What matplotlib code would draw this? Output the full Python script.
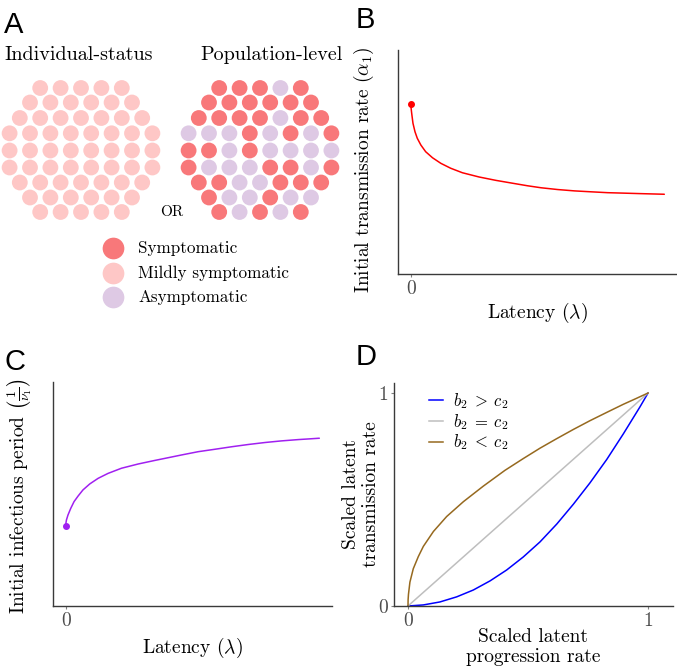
import numpy as np
import matplotlib
matplotlib.use('Agg')
import matplotlib.pyplot as plt

plt.rcParams['font.family'] = ['cmr10', 'DejaVu Serif']
plt.rcParams['mathtext.fontset'] = 'cm'
plt.rcParams['axes.unicode_minus'] = False
plt.rcParams['axes.formatter.use_mathtext'] = True

# ---------------- data ----------------
# Panel A: status of each individual, row by row (S=symptomatic, M=mild, A=asymptomatic)
status_codes = ['S', 'M', 'A']
status_names = ['Symptomatic', 'Mildly symptomatic', 'Asymptomatic']
status_colors = ['#F8787A', '#FEC7C6', '#DEC9E4']
individual_rows = ['MMMMM', 'MMMMMM', 'MMMMMMM', 'MMMMMMMM', 'MMMMMMMM',
                   'MMMMMMMM', 'MMMMMMM', 'MMMMMM', 'MMMMM']
population_rows = ['SSSAS', 'SSSSSS', 'SSSSASS', 'AAASASAS', 'SSASAAAA',
                   'SAAASSAS', 'SSAASSS', 'SAASAA', 'SASAS']
panelA_titles = ['Individual-status', 'Population-level']

# Panel B: initial transmission rate vs latency (scaled units)
b_latency = [0.0, 0.002, 0.004, 0.009, 0.017, 0.026, 0.040, 0.059, 0.086, 0.119, 0.158,
             0.204, 0.270, 0.336, 0.408, 0.460, 0.514, 0.580, 0.646, 0.710, 0.777,
             0.840, 0.900, 0.950, 1.0]
b_alpha = [0.758, 0.737, 0.717, 0.673, 0.635, 0.606, 0.576, 0.546, 0.519, 0.494, 0.472,
           0.452, 0.433, 0.418, 0.404, 0.394, 0.385, 0.377, 0.371, 0.367, 0.363,
           0.361, 0.359, 0.3575, 0.356]

# Panel C: initial infectious period vs latency (scaled units)
c_latency = [0.0, 0.001, 0.003, 0.009, 0.020, 0.033, 0.049, 0.068, 0.095, 0.128, 0.167,
             0.220, 0.286, 0.352, 0.391, 0.460, 0.523, 0.590, 0.655, 0.720, 0.787,
             0.850, 0.918, 0.960, 1.0]
c_period = [0.357, 0.370, 0.384, 0.406, 0.436, 0.466, 0.491, 0.518, 0.545, 0.570, 0.592,
            0.615, 0.634, 0.650, 0.659, 0.675, 0.689, 0.700, 0.711, 0.721, 0.730,
            0.737, 0.743, 0.746, 0.749]

# Panel D: scaled latent transmission vs progression rate
d_blue_x = [0.0, 0.064, 0.133, 0.203, 0.272, 0.342, 0.411, 0.480, 0.550, 0.620,
            0.689, 0.758, 0.828, 0.897, 0.967, 1.0]
d_blue_y = [0.0, 0.005, 0.019, 0.043, 0.075, 0.118, 0.169, 0.230, 0.301, 0.385,
            0.478, 0.578, 0.688, 0.808, 0.936, 1.0]
d_gray_x = [0.0, 1.0]
d_gray_y = [0.0, 1.0]
d_brown_x = [0.0, 0.0005, 0.002, 0.008, 0.022, 0.043, 0.064, 0.106, 0.161, 0.231, 0.314,
             0.404, 0.480, 0.550, 0.620, 0.689, 0.758, 0.828, 0.897, 0.950, 1.0]
d_brown_y = [0.0, 0.030, 0.055, 0.112, 0.175, 0.232, 0.280, 0.350, 0.420, 0.490, 0.563,
             0.637, 0.692, 0.741, 0.786, 0.829, 0.870, 0.909, 0.947, 0.974, 1.0]
d_labels = [r'$b_2\;>\;c_2$', r'$b_2\;=\;c_2$', r'$b_2\;<\;c_2$']
d_colors = ['#0000FF', '#BEBEBE', '#96691F']

# ---------------- figure ----------------
W, H = 677, 667
fig = plt.figure(figsize=(W / 100, H / 100), dpi=100)


def fx(px):
    return px / W


def fy(py):
    return 1 - py / H


def add_ax(left, top, right, bottom):
    return fig.add_axes([fx(left), fy(bottom), (right - left) / W, (bottom - top) / H])


letter_kw = dict(family=['Liberation Sans', 'DejaVu Sans'], fontsize=21, va='baseline', ha='left')
fig.text(fx(4), fy(33), 'A', **letter_kw)
fig.text(fx(356), fy(28), 'B', **letter_kw)
fig.text(fx(4), fy(370), 'C', **letter_kw)
fig.text(fx(356), fy(365), 'D', **letter_kw)

# ---------------- Panel A ----------------
axA = add_ax(0, 0, 340, 320)
axA.set_xlim(0, 340)
axA.set_ylim(320, 0)
axA.axis('off')

code_color = dict(zip(status_codes, status_colors))
row_y = [88, 102.5, 118, 133.3, 150.5, 167.5, 182.5, 197.5, 212]
pitch = 20.4
dot_d_pt = 15.8 * 0.72
for rows, cx in [(individual_rows, 81), (population_rows, 260)]:
    for yrow, row in zip(row_y, rows):
        n = len(row)
        xs = cx + (np.arange(n) - (n - 1) / 2) * pitch
        axA.scatter(xs, [yrow] * n, s=dot_d_pt ** 2,
                    c=[code_color[ch] for ch in row], linewidths=0)

axA.text(4, 60, panelA_titles[0], fontsize=14.5, va='baseline', ha='left')
axA.text(200, 60, panelA_titles[1], fontsize=14.5, va='baseline', ha='left')
axA.text(172, 212, 'OR', fontsize=11, va='center', ha='center')

leg_y = [248, 273, 297]
for yy, name, col in zip(leg_y, status_names, status_colors):
    axA.scatter([113], [yy], s=(21.7 * 0.72) ** 2, c=[col], linewidths=0)
    axA.text(138, yy, name, fontsize=12.3, va='center', ha='left')


def style(ax):
    for s in ['top', 'right']:
        ax.spines[s].set_visible(False)
    for s in ['left', 'bottom']:
        ax.spines[s].set_color('#3a3a3a')
        ax.spines[s].set_linewidth(1.0)
    ax.tick_params(length=2.5, width=0.8, color='#808080', labelcolor='#4d4d4d',
                   labelsize=14, pad=2)
    ax.set_facecolor('none')


# ---------------- Panel B ----------------
axB = add_ax(398, 50, 677, 274)
style(axB)
axB.plot(b_latency, b_alpha, color='#FF0000', lw=1.1, solid_capstyle='round')
axB.plot(b_latency[:1], b_alpha[:1], 'o', color='#FF0000', ms=4)
axB.set_xlim(-0.05, 1.05)
axB.set_ylim(0, 1)
axB.set_xticks([0])
axB.set_xticklabels(['0'])
axB.set_yticks([])
fig.text(fx(364), fy(170), r'Initial transmission rate $(\alpha_1)$', rotation=90,
         fontsize=14, ha='center', va='center')
fig.text(fx(537), fy(313), r'Latency $(\lambda)$', fontsize=14, ha='center', va='center')

# ---------------- Panel C ----------------
axC = add_ax(53, 382, 332, 606)
style(axC)
axC.plot(c_latency, c_period, color='#A020F0', lw=1.1, solid_capstyle='round')
axC.plot(c_latency[:1], c_period[:1], 'o', color='#A020F0', ms=4)
axC.set_xlim(-0.05, 1.05)
axC.set_ylim(0, 1)
axC.set_xticks([0])
axC.set_xticklabels(['0'])
axC.set_yticks([])
fig.text(fx(20), fy(496), r'Initial infectious period $\left(\frac{1}{\nu_1}\right)$',
         rotation=90, fontsize=14, ha='center', va='center')
fig.text(fx(192), fy(648), r'Latency $(\lambda)$', fontsize=14, ha='center', va='center')

# ---------------- Panel D ----------------
axD = add_ax(394, 383, 673, 606)
style(axD)
for xs, ys, lab, col in zip([d_blue_x, d_gray_x, d_brown_x], [d_blue_y, d_gray_y, d_brown_y],
                            d_labels, d_colors):
    axD.plot(xs, ys, color=col, lw=1.1, label=lab)
axD.set_xlim(-0.0583, 1.104)
axD.set_ylim(0, 1.047)
axD.set_xticks([0, 1])
axD.set_xticklabels(['0', '1'])
axD.set_yticks([0, 1])
axD.set_yticklabels(['0', '1'])
axD.tick_params(axis='y', pad=1.5)
axD.legend(loc='upper left', bbox_to_anchor=((429 - 394) / 279, (606 - 391) / 223),
           frameon=False, fontsize=12, handlelength=0.85, handletextpad=0.6,
           labelspacing=0.05, borderpad=0, borderaxespad=0)
fig.text(fx(361), fy(494), 'Scaled latent\ntransmission rate', rotation=90,
         fontsize=14, ha='center', va='center', linespacing=1.15, multialignment='center')
fig.text(fx(533), fy(647), 'Scaled latent\nprogression rate',
         fontsize=14, ha='center', va='center', linespacing=1.15, multialignment='center')

fig.savefig('out.png', dpi=100)
